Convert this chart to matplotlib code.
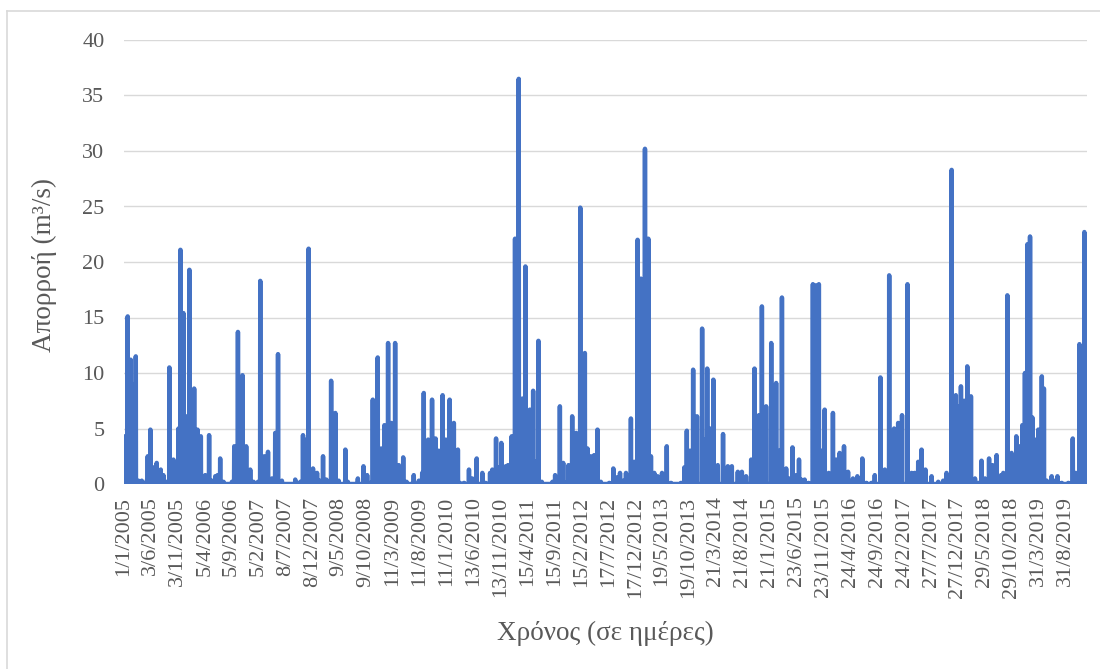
import matplotlib
matplotlib.use("Agg")
import matplotlib.pyplot as plt
import numpy as np
import pandas as pd

plt.rcParams['font.family'] = ['Liberation Serif', 'DejaVu Serif']

# Daily record, 1 Jan 2005 - 31 Dec 2019
start_date = "2005-01-01"
end_date = "2019-12-31"

# Flow events: day counted from 1 Jan 2005, and daily discharge (m3/s).
# Days not listed sit at zero flow.
event_day = [
    0, 21, 28, 38, 53, 67, 82, 101, 129, 135, 150, 167, 186, 209, 224, 243,
    258, 281, 296, 310, 321, 330, 338, 353, 361, 372, 386, 399, 410, 418, 427,
    437, 462, 473, 484, 500, 519, 532, 547, 566, 614, 627, 648, 661, 674, 695,
    718, 737, 762, 775, 798, 819, 841, 860, 866, 876, 898, 974, 1003, 1018,
    1037, 1050, 1075, 1098, 1113, 1132, 1151, 1178, 1193, 1202, 1221, 1259,
    1273, 1330, 1362, 1383, 1402, 1415, 1430, 1443, 1463, 1481, 1502, 1520,
    1542, 1563, 1588, 1607, 1648, 1677, 1696, 1705, 1730, 1752, 1772, 1790,
    1812, 1830, 1852, 1876, 1899, 1910, 1934, 1962, 1981, 2006, 2038, 2057,
    2082, 2095, 2116, 2133, 2146, 2171, 2184, 2205, 2224, 2234, 2245, 2266,
    2283, 2308, 2327, 2342, 2357, 2376, 2437, 2452, 2479, 2498, 2513, 2528,
    2549, 2572, 2595, 2608, 2621, 2636, 2655, 2674, 2693, 2712, 2760, 2783,
    2803, 2821, 2840, 2855, 2883, 2902, 2921, 2940, 2963, 2982, 2997, 3016,
    3035, 3060, 3087, 3111, 3168, 3187, 3201, 3219, 3237, 3259, 3288, 3301,
    3317, 3333, 3352, 3377, 3407, 3434, 3457, 3491, 3514, 3538, 3567, 3586,
    3611, 3628, 3652, 3681, 3709, 3728, 3742, 3766, 3785, 3802, 3823, 3839,
    3852, 3871, 3893, 3918, 3926, 3935, 3944, 3952, 3966, 3985, 4008, 4032,
    4051, 4070, 4095, 4118, 4133, 4146, 4171, 4199, 4222, 4251, 4270, 4302,
    4327, 4352, 4380, 4403, 4425, 4456, 4479, 4497, 4517, 4536, 4558, 4593,
    4631, 4659, 4678, 4707, 4731, 4745, 4760, 4779, 4796, 4817, 4840, 4859,
    4877, 4897, 4920, 4940, 4963, 4988, 5001, 5024, 5048, 5075, 5092, 5109,
    5124, 5138, 5153, 5166, 5181, 5200, 5220, 5232, 5248, 5276, 5295, 5309,
    5333, 5371, 5396, 5413, 5434, 5447, 5462, 5471, 5477,
]
event_flow = [
    4.3, 15.1, 10.0, 11.2, 9.0, 11.5, 0.3, 0.3, 0.3, 2.5, 4.9, 1.5, 1.9, 1.3, 0.8, 0.2,
    10.5, 2.2, 0.2, 5.0, 21.1, 12.0, 15.4, 6.1, 3.0, 19.3, 6.0, 8.6, 3.5, 4.9, 2.0,
    4.3, 0.8, 0.3, 4.4, 0.3, 0.7, 0.8, 2.3, 0.2, 0.2, 3.4, 13.7, 5.0, 9.8, 3.4,
    1.3, 0.2, 0.2, 18.3, 2.5, 2.9, 0.5, 4.6, 4.6, 11.7, 0.3, 0.4, 0.2, 4.4,
    4.0, 21.2, 1.4, 1.0, 0.3, 2.5, 0.4, 9.3, 1.5, 6.4, 0.3, 3.1,
    0.2, 0.5, 1.6, 0.8, 0.1, 7.6, 2.0, 11.4, 3.2, 5.3, 12.7, 5.5,
    12.7, 1.7, 2.4, 0.2, 0.8, 0.3, 1.0, 8.2, 4.0, 7.6, 4.1, 3.0,
    8.0, 4.0, 7.6, 5.5, 3.1, 0.1, 0.1, 1.3, 0.5, 2.3, 1.0, 0.1,
    1.0, 1.3, 4.1, 1.5, 3.7, 1.6, 1.7, 4.3, 22.1, 10.0, 36.5, 7.7,
    19.6, 6.7, 8.4, 2.0, 12.9, 0.2, 0.2, 0.8, 7.0, 1.9, 0.1, 1.7,
    6.1, 4.6, 24.9, 3.0, 11.8, 3.2, 2.5, 2.6, 4.9, 0.2, 0.1, 1.4,
    0.6, 1.0, 0.3, 1.0, 5.9, 2.0, 22.0, 18.5, 30.2, 22.1, 2.5, 1.0,
    0.7, 1.0, 3.4, 0.1, 0.1, 1.5, 4.8, 3.0, 10.3, 6.1, 14.0, 4.0,
    10.4, 5.0, 9.4, 1.7, 4.5, 1.6, 1.6, 1.1, 1.1, 0.7, 2.2, 10.4,
    6.2, 16.0, 7.0, 12.7, 9.1, 3.0, 16.8, 1.4, 0.5, 3.3, 0.8, 2.2,
    0.4, 0.4, 0.1, 18.0, 17.8, 17.9, 17.8, 18.0, 3.0, 6.7, 1.0, 6.4,
    2.2, 2.8, 3.4, 1.1, 0.2, 0.5, 0.7, 2.3, 0.1, 0.1, 0.8, 9.6,
    1.3, 18.8, 5.0, 5.5, 6.2, 18.0, 1.0, 1.0, 2.0, 3.1, 1.3, 0.7,
    0.2, 0.3, 1.0, 28.3, 8.0, 7.0, 8.8, 7.5, 10.6, 7.9, 0.5, 0.1,
    2.1, 0.5, 2.3, 1.7, 2.6, 0.8, 1.0, 17.0, 2.8, 4.3, 3.4, 5.3,
    10.0, 21.6, 22.3, 6.0, 4.0, 4.9, 9.7, 8.6, 0.3, 0.7, 0.3, 0.7,
    0.1, 0.1, 4.1, 1.0, 12.6, 9.0, 22.7, 5.3, 2.9,
]

# A date label every 153 days along the category axis
label_step = 153

dates = pd.date_range(start_date, end_date, freq="D")
flow = np.zeros(len(dates))
flow[np.array(event_day)] = event_flow

fig = plt.figure(figsize=(11.0, 6.69), dpi=100)
ax = fig.add_axes([124 / 1100, 1 - 484 / 669, 963 / 1100, 444 / 669])

idx = np.arange(len(dates))
ax.plot(idx, flow, color="#4472C4", lw=3.2,
        solid_joinstyle="round", solid_capstyle="round", zorder=3)

ax.set_xlim(0, len(dates) - 1)
ax.set_ylim(0, 40)
ax.set_yticks(np.arange(0, 41, 5))
tick_idx = idx[::label_step]
ax.set_xticks(tick_idx)
ax.set_xticklabels([f"{d.day}/{d.month}/{d.year}" for d in dates[tick_idx]],
                   rotation=90, va="top", ha="center")

ax.grid(axis="y", color="#D9D9D9", lw=1.0, zorder=0)
ax.set_axisbelow(True)
for s in ax.spines.values():
    s.set_visible(False)
ax.axhline(0, color="#D9D9D9", lw=1.0, zorder=1)

ax.tick_params(axis="y", length=0, pad=14, labelsize=16, labelcolor="#595959")
ax.tick_params(axis="x", length=0, pad=9, labelsize=16, labelcolor="#595959")

fig.text(44 / 1100, 1 - 265 / 669, "Απορροή (m³/s)", rotation=90,
         ha="center", va="center", fontsize=19.5, color="#595959")
fig.text(605 / 1100, 1 - 633 / 669, "Χρόνος (σε ημέρες)",
         ha="center", va="center", fontsize=19.5, color="#595959")

# chart-area frame
fig.add_artist(plt.Line2D([7 / 1100, 1.0], [1 - 11 / 669, 1 - 11 / 669],
                          transform=fig.transFigure, color="#D9D9D9", lw=1.2))
fig.add_artist(plt.Line2D([7 / 1100, 7 / 1100], [0.0, 1 - 11 / 669],
                          transform=fig.transFigure, color="#D9D9D9", lw=1.2))

fig.savefig("out.png", dpi=100, facecolor="white")
